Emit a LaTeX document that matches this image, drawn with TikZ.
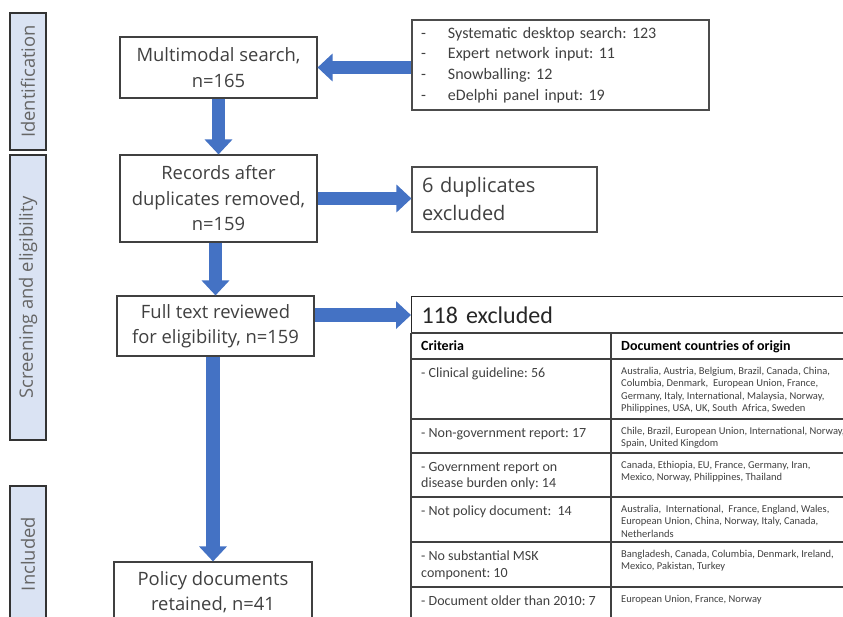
\documentclass[tikz,border=0pt]{standalone}
\usepackage{fontspec}
\setmainfont{Open Sans}
\newfontfamily\calib{Carlito}
\usetikzlibrary{arrows.meta}
\definecolor{arrowblue}{HTML}{4472C4}
\definecolor{bandfill}{HTML}{DAE3F3}
\definecolor{txtgray}{HTML}{404040}
\definecolor{linegray}{HTML}{404040}
\frenchspacing
\begin{document}
\frenchspacing
\begin{tikzpicture}[x=1pt,y=-1pt,
  box/.style={draw=linegray, line width=1.1pt, fill=white, text=txtgray, align=center,
    inner sep=0pt, font=\fontsize{18.4}{25.5}\selectfont},
  band/.style={draw=black!80, line width=1.3pt, fill=bandfill, rotate=90,
    minimum height=36pt, inner sep=0pt, text=black!60, font=\fontsize{18.4}{22}\selectfont},
  blockarrow/.style={draw=arrowblue, line width=13.5pt, -{Triangle[width=27pt,length=15pt]}},
  tline/.style={draw=black!75, line width=1.1pt},
  crit/.style={anchor=north west, inner sep=0pt, align=left, text=txtgray,
    font=\calib\fontsize{14}{16.7}\selectfont},
  ctry/.style={anchor=north west, inner sep=0pt, align=left, text=txtgray,
    font=\calib\fontsize{10.5}{12.4}\selectfont},
  hdr/.style={anchor=base west, inner sep=0pt, text=black,
    font=\calib\bfseries\fontsize{14}{16}\selectfont}
]
\useasboundingbox (0,0) rectangle (843,617);
\clip (0,0) rectangle (843,617);

% phase bands
\node[band, minimum width=137pt] (bid) at (28,81.5) {Identification};
\node[band, minimum width=285pt] (bsc) at (28,297.5) {Screening and eligibility};
\node[band, minimum width=136pt] (bin) at (28,554) {Included};

% main boxes
\node[box, minimum width=197pt, minimum height=61pt] (mm) at (218.5,67.5) {Multimodal search,\\n=165};
\node[box, minimum width=197pt, minimum height=87pt] (rec) at (218.5,198.5) {Records after\\duplicates removed,\\n=159};
\node[box, minimum width=197pt, minimum height=60pt] (ft) at (215.5,326) {Full text reviewed\\for eligibility, n=159};
\node[box, minimum width=198pt, minimum height=60pt] (pol) at (213,592) {Policy documents\\retained, n=41};

% sources box
\node[draw=black!70, line width=1.1pt, fill=white, text=txtgray, align=left,
  text width=279pt, inner xsep=9pt, inner ysep=0pt, minimum height=90pt,
  font=\calib\fontsize{16}{20.7}\selectfont] (src) at (560.5,65)
  {\makebox[27pt][l]{-}Systematic desktop search: 123\\
   \makebox[27pt][l]{-}Expert network input: 11\\
   \makebox[27pt][l]{-}Snowballing: 12\\
   \makebox[27pt][l]{-}eDelphi panel input: 19};

% duplicates box
\node[draw=black!70, line width=1.1pt, fill=white, text=txtgray, align=left,
  text width=165pt, inner xsep=10pt, inner ysep=0pt, minimum height=65pt,
  font=\fontsize{20}{28}\selectfont] (dup) at (504.5,199.5)
  {6 duplicates\\excluded};

% table
\node[anchor=north west, draw=black!85, line width=1.1pt, minimum width=489pt, minimum height=37pt,
  text width=469pt, inner xsep=10pt, inner ysep=0pt, align=left, text=black!85,
  font=\calib\fontsize{24}{28}\selectfont] (tt) at (411,296) {118 excluded};
\draw[tline] (411,333) -- (411,640);
\draw[tline] (611,333) -- (611,640);
\foreach \yy in {333,359,419,453,497,542,587} {\draw[tline] (411,\yy) -- (900,\yy);}

\node[hdr] (h1) at (421,351) {Criteria};
\node[hdr] (h2) at (621,351) {Document countries of origin};

\node[crit] (c1) at (421,368) {- Clinical guideline: 56};
\node[crit] (c2) at (421,428) {- Non-government report: 17};
\node[crit] (c3) at (421,462) {- Government report on\\disease burden only: 14};
\node[crit] (c4) at (421,506) {- Not policy document:\ \ 14};
\node[crit] (c5) at (421,551) {- No substantial MSK\\component: 10};
\node[crit] (c6) at (421,596) {- Document older than 2010: 7};

\node[ctry] (k1) at (621,367) {Australia, Austria, Belgium, Brazil, Canada, China,\\Columbia, Denmark,\ \ European Union, France,\\Germany, Italy, International, Malaysia, Norway,\\Philippines, USA, UK, South\ \ Africa, Sweden};
\node[ctry] (k2) at (621,427) {Chile, Brazil, European Union, International, Norway,\\Spain, United Kingdom};
\node[ctry] (k3) at (621,461) {Canada, Ethiopia, EU, France, Germany, Iran,\\Mexico, Norway, Philippines, Thailand};
\node[ctry] (k4) at (621,505) {Australia,\ \ International,\ \ France, England, Wales,\\European Union, China, Norway, Italy, Canada,\\Netherlands};
\node[ctry] (k5) at (621,550) {Bangladesh, Canada, Columbia, Denmark, Ireland,\\Mexico, Pakistan, Turkey};
\node[ctry] (k6) at (621,595) {European Union, France, Norway};

% arrows
\draw[blockarrow] (mm.east -| src.west) -- (mm.east);
\draw[blockarrow] (mm.south) -- (rec.north);
\draw[blockarrow] (rec.east) -- (rec.east -| dup.west);
\draw[blockarrow] (ft.north |- rec.south) -- (ft.north);
\draw[blockarrow] (ft.east |- tt.west) -- (tt.west);
\draw[blockarrow] (pol.north |- ft.south) -- (pol.north);
\end{tikzpicture}
\end{document}
